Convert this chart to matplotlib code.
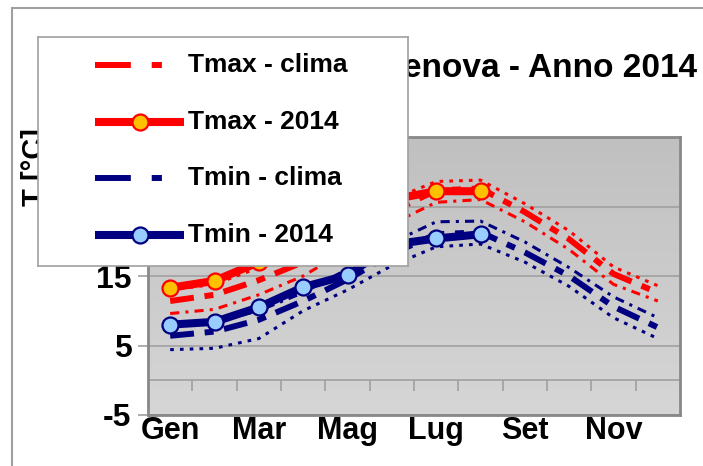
import numpy as np
import matplotlib
matplotlib.use("Agg")
import matplotlib.pyplot as plt
from matplotlib.colors import LinearSegmentedColormap
from matplotlib.patches import Rectangle

plt.rcParams['font.family'] = ['Liberation Sans', 'DejaVu Sans']
plt.rcParams['axes.unicode_minus'] = False

# dati (valori mensili)
mesi = ["Gen", "Feb", "Mar", "Apr", "Mag", "Giu", "Lug", "Ago", "Set", "Ott", "Nov", "Dic"]
tmax_clima = [11.4, 12.3, 14.4, 17.0, 20.5, 24.3, 27.3, 27.6, 24.2, 20.3, 15.3, 12.6]
tmax_sup = [13.0, 13.8, 16.2, 18.5, 22.0, 26.0, 28.6, 28.8, 25.4, 21.5, 16.3, 13.6]
tmax_inf = [9.6, 10.2, 12.3, 15.0, 18.8, 22.5, 25.6, 26.0, 22.8, 18.8, 13.8, 11.4]
tmin_clima = [6.4, 7.0, 8.7, 11.4, 14.5, 18.2, 21.0, 21.3, 18.4, 15.0, 10.6, 7.6]
tmin_sup = [7.8, 8.4, 10.0, 12.6, 16.0, 19.8, 22.8, 22.9, 19.9, 16.2, 12.0, 9.0]
tmin_inf = [4.4, 4.6, 6.0, 10.0, 13.0, 16.5, 19.2, 19.6, 17.0, 13.5, 9.0, 6.0]
tmax_2014 = [13.3, 14.3, 17.0, 19.5, 22.0, 26.0, 27.2, 27.2]
tmin_2014 = [8.0, 8.4, 10.5, 13.4, 15.1, 19.5, 20.4, 21.0]
yticks = [-5, 5, 15, 25, 35]

RED = "#ff0000"
NAVY = "#000080"
W, H = 703, 466


def fx(x):
    return x / W


def fy(y):
    return 1 - y / H


fig = plt.figure(figsize=(W / 100, H / 100), dpi=100)

# cornice del grafico
fig.patches.append(Rectangle((fx(12), -0.1), 1.2, fy(8) + 0.1, transform=fig.transFigure,
                             fill=False, edgecolor="#a0a0a0", lw=1.5))

ax = fig.add_axes([fx(148), fy(415), (680 - 148) / W, (415 - 137) / H])
x = np.arange(len(mesi))
x14 = np.arange(len(tmax_2014))

# sfondo sfumato
cmap = LinearSegmentedColormap.from_list("bg", ["#c0c0c0", "#d6d6d6"])
ax.imshow(np.linspace(0, 1, 200).reshape(-1, 1), extent=[-0.5, 11.5, -5, 35],
          aspect="auto", cmap=cmap, origin="upper", zorder=0)

ax.set_xlim(-0.5, 11.5)
ax.set_ylim(-5, 35)
ax.set_yticks(yticks)
ax.yaxis.grid(True, color="#a0a0a0", lw=1.2, zorder=1)
ax.set_axisbelow(True)
ax.axhline(0, color="#a0a0a0", lw=1.2, zorder=1)
ax.vlines(np.arange(0.5, 11, 1), -1.6, 0, color="#a0a0a0", lw=1.2, zorder=1)

dash_clima = (0, (4, 1.8, 1.5, 1.8))
dot = (0, (1.2, 2.0))
dashdot = (0, (3, 2, 1, 2))

ax.plot(x, tmax_sup, color=RED, lw=2.2, ls=dot, zorder=2)
ax.plot(x, tmax_inf, color=RED, lw=2.2, ls=dashdot, zorder=2)
ax.plot(x, tmin_sup, color=NAVY, lw=2.2, ls=dashdot, zorder=2)
ax.plot(x, tmin_inf, color=NAVY, lw=2.2, ls=dot, zorder=2)
ax.plot(x, tmax_clima, color=RED, lw=4.3, ls=dash_clima, zorder=3)
ax.plot(x, tmin_clima, color=NAVY, lw=4.3, ls=dash_clima, zorder=3)
ax.plot(x14, tmax_2014, color=RED, lw=5.8, marker="o", ms=11.5, mfc="#ffc000",
        mec=RED, mew=1.6, zorder=4)
ax.plot(x14, tmin_2014, color=NAVY, lw=5.8, marker="o", ms=11.5, mfc="#99ccff",
        mec=NAVY, mew=1.6, zorder=4)

ax.set_xticks(x[::2])
ax.set_xticklabels(mesi[::2], fontsize=22, fontweight="bold")
ax.tick_params(axis="x", length=0, pad=1)
ax.tick_params(axis="y", length=7, width=1.2, color="#a0a0a0", pad=5, labelsize=23)
for lab in ax.get_yticklabels():
    lab.set_fontweight("bold")
for s in ax.spines.values():
    s.set_color("#888888")
    s.set_linewidth(2)

fig.text(fx(35), fy(167), "T [°C]", rotation=90, ha="center", va="center",
         fontsize=21, fontweight="bold")
fig.text(fx(697), fy(68), "Genova - Anno 2014", ha="right", va="center",
         fontsize=24, fontweight="bold")

# legenda
lax = fig.add_axes([fx(38), fy(266), (408 - 38) / W, (266 - 37) / H], zorder=10)
lax.set_xlim(38, 408)
lax.set_ylim(266, 37)
lax.set_facecolor("white")
lax.set_xticks([])
lax.set_yticks([])
for s in lax.spines.values():
    s.set_color("#a0a0a0")
    s.set_linewidth(1.2)

voci = [
    ("Tmax - clima", dict(color=RED, lw=4.3, ls=(0, (6, 3.5, 1.7, 4)))),
    ("Tmax - 2014", dict(color=RED, lw=5.8, marker="o", ms=11.5, mfc="#ffc000",
                          mec=RED, mew=1.6, markevery=[1])),
    ("Tmin - clima", dict(color=NAVY, lw=4.3, ls=(0, (6, 3.5, 1.7, 4)))),
    ("Tmin - 2014", dict(color=NAVY, lw=5.8, marker="o", ms=11.5, mfc="#99ccff",
                          mec=NAVY, mew=1.6, markevery=[1])),
]
for i, (nome, stile) in enumerate(voci):
    yy = 65 + i * 56.7
    lax.plot([95, 140, 184], [yy, yy, yy], solid_capstyle="butt", **stile)
    lax.text(188, yy, nome, ha="left", va="center", fontsize=19, fontweight="bold")

fig.savefig("out.png", dpi=100)
